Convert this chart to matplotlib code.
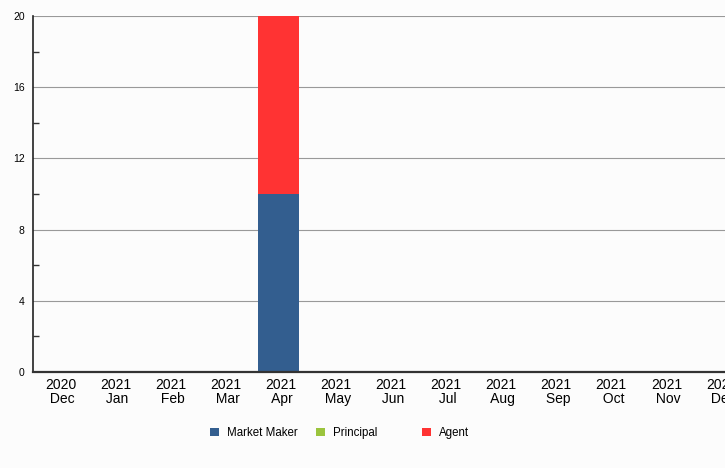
import matplotlib
matplotlib.use("Agg")
import matplotlib.pyplot as plt
import numpy as np

plt.rcParams['font.family'] = ['Liberation Sans', 'DejaVu Sans']

years = ["2020", "2021", "2021", "2021", "2021", "2021", "2021", "2021", "2021", "2021", "2021", "2021", "2021"]
months = ["Dec", "Jan", "Feb", "Mar", "Apr", "May", "Jun", "Jul", "Aug", "Sep", "Oct", "Nov", "Dec"]
market_maker = [0, 0, 0, 0, 10, 0, 0, 0, 0, 0, 0, 0, 0]
principal = [0, 0, 0, 0, 0, 0, 0, 0, 0, 0, 0, 0, 0]
agent = [0, 0, 0, 0, 10, 0, 0, 0, 0, 0, 0, 0, 0]

bg = "#fcfcfc"
fig = plt.figure(figsize=(7.25, 4.68), dpi=100, facecolor=bg)
ax = fig.add_axes([33/725, 1 - 372/468, 716/725, 356/468])
ax.set_facecolor(bg)

x = np.arange(len(months))
mm = np.array(market_maker, float)
pr = np.array(principal, float)
ag = np.array(agent, float)
w = 0.74
off = -0.045
ax.bar(x + off, mm, w, color="#335e8f", label="Market Maker", zorder=3)
ax.bar(x + off, pr, w, bottom=mm, color="#9bc43d", label="Principal", zorder=3)
ax.bar(x + off, ag, w, bottom=mm + pr, color="#ff3333", label="Agent", zorder=3)

ax.set_xlim(-0.5, len(months) - 0.5)
ax.set_ylim(0, 20)
ax.set_yticks([0, 4, 8, 12, 16, 20])
ax.set_yticks([2, 6, 10, 14, 18], minor=True)
ax.tick_params(axis='y', which='major', length=0, labelsize=7.5, pad=6)
ax.tick_params(axis='y', which='minor', length=4, direction='in', width=1, color='#333333')
ax.grid(axis='y', color='#999999', linewidth=0.8, zorder=0)

ax.set_xticks(x)
ax.set_xticklabels([f"{y}\n {m}" for y, m in zip(years, months)], fontsize=10, linespacing=1.05)
ax.tick_params(axis='x', length=0, pad=4)

for s in ['top', 'right']:
    ax.spines[s].set_visible(False)
ax.spines['left'].set_color('#222222')
ax.spines['left'].set_linewidth(1.2)
ax.spines['bottom'].set_color('#333333')
ax.spines['bottom'].set_linewidth(1.6)
ax.spines['bottom'].set_zorder(4)

handles, labels = ax.get_legend_handles_labels()
lefts = [210, 316, 422]
for h, l, xl in zip(handles, labels, lefts):
    leg = fig.legend([h], [l], loc='center left', bbox_to_anchor=(xl/725, 1 - 433/468),
                     frameon=False, fontsize=8.3, handlelength=0.8, handleheight=0.8,
                     handletextpad=0.7, borderpad=0, borderaxespad=0)

fig.savefig("out.png", dpi=100, facecolor=bg)
